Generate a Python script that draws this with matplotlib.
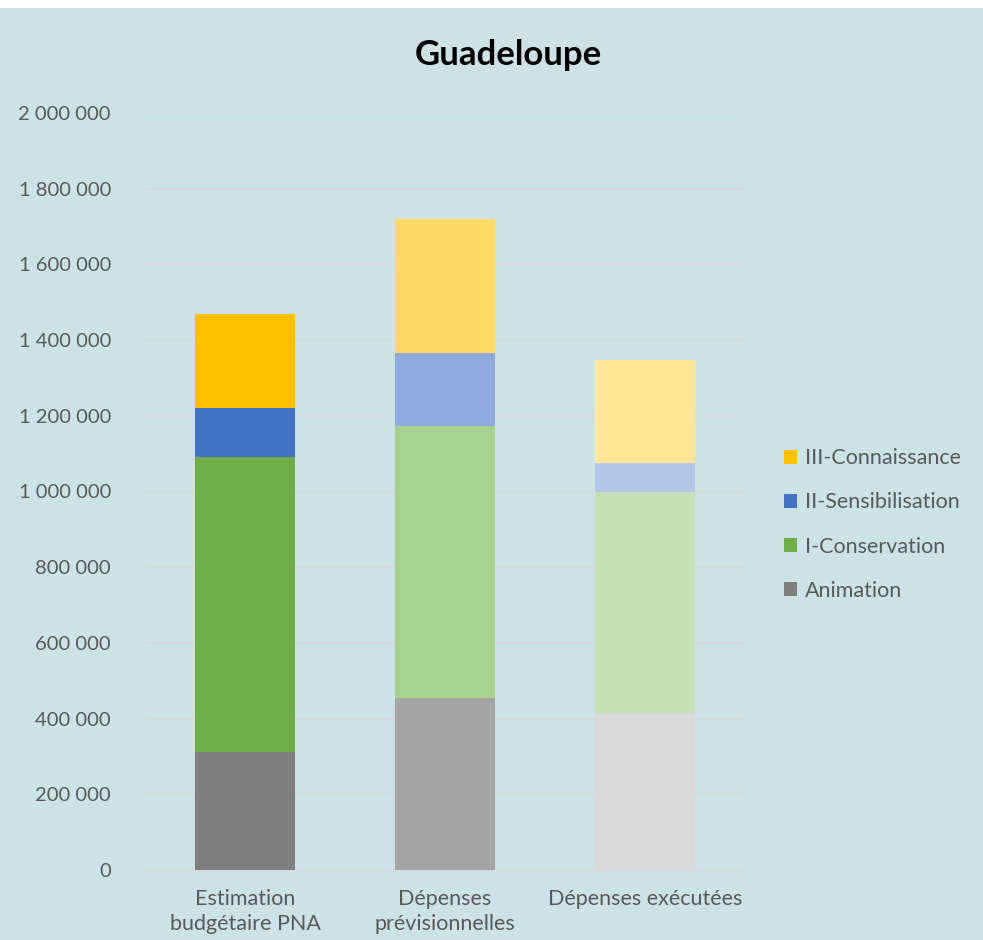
import matplotlib
matplotlib.use("Agg")
import matplotlib.pyplot as plt
from matplotlib.patches import Patch

categories = ["Estimation\nbudgétaire PNA", "Dépenses\nprévisionnelles", "Dépenses exécutées"]
series = ["Animation", "I-Conservation", "II-Sensibilisation", "III-Connaissance"]
animation = [312000, 454000, 415000]
conservation = [779000, 719000, 584000]
sensibilisation = [130000, 193000, 77000]
connaissance = [248000, 354000, 272000]
yticks = [0, 200000, 400000, 600000, 800000, 1000000, 1200000, 1400000, 1600000, 1800000, 2000000]

values = [animation, conservation, sensibilisation, connaissance]
# colors per series per category (darker -> lighter)
colors = [
    ["#7F7F7F", "#A5A5A5", "#D9D9D9"],
    ["#70AD47", "#A9D18E", "#C5E0B4"],
    ["#4472C4", "#8FAADC", "#B4C7E7"],
    ["#FFC000", "#FFD966", "#FFE699"],
]

plt.rcParams["font.family"] = ["Lato", "DejaVu Sans"]
bg = "#CDE2E7"
W, H = 983, 940
fig = plt.figure(figsize=(W / 100, H / 100), dpi=100)
fig.patch.set_facecolor("white")
fig.patches.append(plt.Rectangle((0, 0), 1, (H - 8) / H, transform=fig.transFigure,
                                 facecolor=bg, edgecolor="none", zorder=-10))

ax = fig.add_axes([145 / W, (H - 870) / H, 600 / W, 757 / H])
ax.set_facecolor("none")

x = list(range(len(categories)))
bottoms = [0] * len(categories)
for si, vals in enumerate(values):
    ax.bar(x, vals, width=0.5, bottom=bottoms, color=colors[si], zorder=3)
    bottoms = [b + v for b, v in zip(bottoms, vals)]

ax.set_xlim(-0.5, 2.5)
ax.set_ylim(0, 2000000)
ax.set_yticks(yticks)
ax.set_yticklabels([f"{v:,}".replace(",", " ") for v in yticks])
ax.set_xticks(x)
ax.set_xticklabels(categories, fontsize=15.5, linespacing=1.3)
ax.grid(axis="y", color="#D9D9D9", linewidth=1.2, zorder=0)
for s in ["top", "right", "left"]:
    ax.spines[s].set_visible(False)
ax.spines["bottom"].set_color("#D9D9D9")
ax.spines["bottom"].set_linewidth(1.2)
ax.tick_params(axis="both", length=0, colors="#595959")
ax.tick_params(axis="y", pad=24.5, labelsize=14.5)
ax.tick_params(axis="x", pad=14)

fig.text(508 / W, (H - 55) / H, "Guadeloupe", ha="center", va="center",
         fontsize=25, fontweight="bold", color="black")

handles = [Patch(facecolor=colors[i][0], edgecolor="none") for i in [3, 2, 1, 0]]
labels = [series[i] for i in [3, 2, 1, 0]]
leg = fig.legend(handles, labels, loc="upper left",
                 bbox_to_anchor=(765 / W, (H - 429) / H), frameon=False,
                 fontsize=15.5, labelcolor="#595959", handlelength=0.6,
                 handleheight=0.6, handletextpad=0.35, labelspacing=1.12)

fig.savefig("out.png", dpi=100, facecolor=fig.get_facecolor())
